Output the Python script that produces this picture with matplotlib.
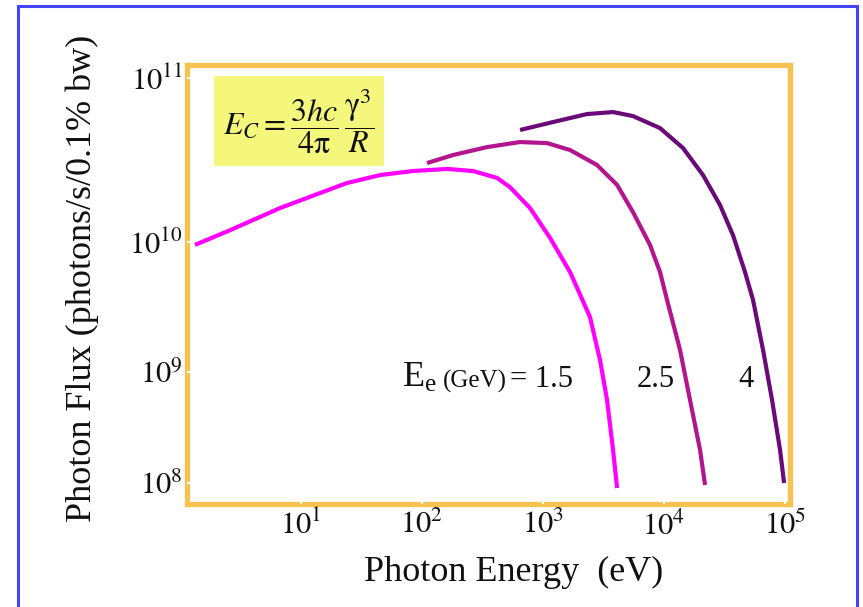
import numpy as np
import matplotlib
matplotlib.use("Agg")
import matplotlib.pyplot as plt
from matplotlib.patches import Rectangle

plt.rcParams["font.family"] = ["Liberation Serif", "DejaVu Serif"]
plt.rcParams["mathtext.fontset"] = "stix"

# Photon energy (eV) and flux (photons/s/0.1% bw)
e_15 = [1.33, 2.59, 6.7, 14.4, 24.0, 45.0, 84, 161, 264, 417, 533, 782,
        1143, 1671, 1836, 2443, 2958, 3382, 3793, 4093]
f_15 = [9.5e9, 1.18e10, 1.61e10, 1.99e10, 2.29e10, 2.56e10, 2.71e10, 2.79e10,
        2.71e10, 2.46e10, 2.16e10, 1.61e10, 1.06e10, 5.88e9, 4.84e9, 2.65e9,
        1.24e9, 5.6e8, 1.98e8, 9.0e7]

e_25 = [110, 180, 344, 646, 1080, 1671, 2793, 4093, 5546, 7656, 9270, 10590,
        13560, 16400, 19860, 21830]
f_25 = [3.03e10, 3.39e10, 3.79e10, 4.07e10, 4.01e10, 3.64e10, 2.95e10, 2.23e10,
        1.52e10, 9.5e9, 5.88e9, 3.58e9, 1.48e9, 5.6e8, 1.98e8, 9.6e7]

e_4 = [646, 1211, 2312, 3793, 5546, 9270, 14360, 20990, 29040, 37170, 46680,
       54400, 65800, 78100, 91000, 98200]
f_4 = [4.82e10, 5.39e10, 6.03e10, 6.20e10, 5.86e10, 4.95e10, 3.74e10, 2.56e10,
       1.68e10, 1.10e10, 5.88e9, 3.58e9, 1.48e9, 5.6e8, 1.98e8, 1.0e8]

x_ticks = [1e1, 1e2, 1e3, 1e4, 1e5]
x_labels = [r"$10^{1}$", r"$10^{2}$", r"$10^{3}$", r"$10^{4}$", r"$10^{5}$"]
y_ticks = [1e8, 1e9, 1e10, 1e11]
y_labels = [r"$10^{8}$", r"$10^{9}$", r"$10^{10}$", r"$10^{11}$"]

# the original's decades are not evenly spaced on the y axis:
# piecewise-linear in log10 between the labelled decades
LOGS = [6.0, 8.0, 9.0, 10.0, 11.0, 13.0]
POS = [-201.0, 21.0, 132.0, 262.0, 426.0, 754.0]


def fwd(y):
    return np.interp(np.log10(np.clip(y, 1e-300, None)), LOGS, POS)


def inv(p):
    return 10 ** np.interp(p, POS, LOGS)


fig = plt.figure(figsize=(8.63, 6.07), dpi=100)
ax = fig.add_axes([0.2167, 0.1697, 0.6987, 0.724])

for e, f, c in [(e_15, f_15, "#FF00FF"), (e_25, f_25, "#B4148E"), (e_4, f_4, "#6A0A78")]:
    ax.plot(e, f, color=c, lw=3, solid_joinstyle="round", solid_capstyle="butt")

ax.set_xscale("log")
ax.set_yscale("function", functions=(fwd, inv))
ax.set_xlim(1.143, 1.099e5)
ax.set_ylim(inv(0.0), inv(439.5))
ax.set_xticks(x_ticks)
ax.set_xticklabels(x_labels)
ax.set_yticks(y_ticks)
ax.set_yticklabels(y_labels)
ax.minorticks_off()
ax.tick_params(direction="in", length=5, width=1.5, color="white",
               labelsize=22, labelcolor="#111111")
ax.tick_params(axis="x", pad=5)
ax.tick_params(axis="y", pad=3)

for sp in ax.spines.values():
    sp.set_color("#F7C24F")
    sp.set_linewidth(3.8)
    sp.set_zorder(1.2)

ax.set_xlabel("Photon Energy  (eV)", fontsize=26, color="#111111")
ax.set_ylabel("Photon Flux (photons/s/0.1% bw)", fontsize=26, color="#111111")
ax.xaxis.set_label_coords(0.541, -0.118)
ax.yaxis.set_label_coords(-0.146, 0.514)

# formula box
ax.add_patch(Rectangle((0.044, 0.770), 0.282, 0.203, transform=ax.transAxes,
                       facecolor="#F5F77C", edgecolor="none", zorder=3))
ax.text(0.185, 0.870,
        r"$E_C = \dfrac{3hc}{4\mathrm{\pi}}\,\dfrac{\mathrm{\gamma}^3}{R}$",
        transform=ax.transAxes, ha="center", va="center", fontsize=23,
        color="#111111", zorder=4)

# energy labels
ax.text(0.357, 0.266, r"$\mathregular{E_e}$", transform=ax.transAxes,
        fontsize=26, va="baseline", color="#111111")
ax.text(0.424, 0.266, "(GeV)", transform=ax.transAxes,
        fontsize=18, va="baseline", color="#111111")
ax.text(0.536, 0.266, "= 1.5", transform=ax.transAxes,
        fontsize=22, va="baseline", color="#111111")
ax.text(0.745, 0.266, "2.5", transform=ax.transAxes,
        fontsize=22, va="baseline", color="#111111")
ax.text(0.914, 0.266, "4", transform=ax.transAxes,
        fontsize=22, va="baseline", color="#111111")

# blue slide border
fig.patches.append(Rectangle((18 / 863, -0.05), 839 / 863, 1.04, transform=fig.transFigure,
                             fill=False, edgecolor="#4444FF", linewidth=2.2))

fig.savefig("out.png", dpi=100)
